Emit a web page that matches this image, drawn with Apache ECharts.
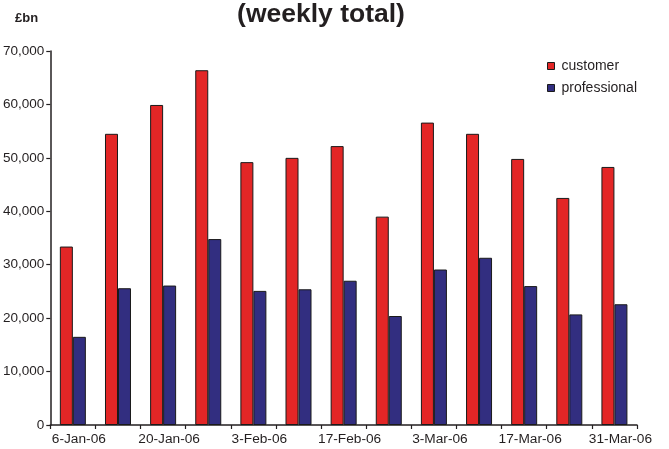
<!DOCTYPE html>
<html>
<head>
<meta charset="utf-8">
<script src="https://cdn.jsdelivr.net/npm/echarts@6/dist/echarts.min.js"></script>
<style>
  html, body { margin: 0; padding: 0; background: #fff; }
  #chart { width: 669px; height: 449px; }
</style>
</head>
<body>
<div id="chart"></div>
<script>
// Weekly totals, Jan–Mar 2006
const weeks = ['6-Jan-06', '13-Jan-06', '20-Jan-06', '27-Jan-06', '3-Feb-06', '10-Feb-06',
  '17-Feb-06', '24-Feb-06', '3-Mar-06', '10-Mar-06', '17-Mar-06', '24-Mar-06', '31-Mar-06'];
const customer = [33400, 54500, 59900, 66400, 49200, 50000, 52200, 39000, 56600, 54500, 49800, 42500, 48300];
const professional = [16500, 25600, 26100, 34800, 25100, 25400, 27000, 20400, 29100, 31300, 26000, 20700, 22600];
const yTicks = [0, 10000, 20000, 30000, 40000, 50000, 60000, 70000];

const textColor = '#231f20';
const font = 'Liberation Sans, Arial, sans-serif';

const chart = echarts.init(document.getElementById('chart'), null, { renderer: 'canvas' });
chart.setOption({
  animation: false,
  backgroundColor: '#ffffff',
  textStyle: { fontFamily: font, color: textColor },
  title: [
    {
      text: '(weekly total)',
      left: 321, top: 1, padding: 0, textAlign: 'center',
      textStyle: { fontFamily: font, fontSize: 26.5, fontWeight: 'bold', color: textColor }
    },
    {
      text: '£bn',
      left: 15, top: 12, padding: 0,
      textStyle: { fontFamily: font, fontSize: 13, fontWeight: 'bold', color: textColor }
    }
  ],
  legend: {
    orient: 'vertical',
    left: 547, top: 59, padding: 0,
    itemWidth: 7, itemHeight: 7, itemGap: 8,
    icon: 'rect',
    itemStyle: { borderColor: '#1a1a1a', borderWidth: 1 },
    textStyle: { fontFamily: font, fontSize: 14, color: textColor, padding: [0, 0, 0, 2] },
    data: ['customer', 'professional']
  },
  grid: { left: 48, right: 32, top: 51, bottom: 24, containLabel: false },
  xAxis: {
    type: 'category',
    data: weeks,
    boundaryGap: true,
    axisLine: { lineStyle: { color: '#231f20', width: 1.5 } },
    axisTick: { show: true, interval: 0, length: 4, lineStyle: { color: '#231f20', width: 1.2 } },
    axisLabel: {
      interval: 1, margin: 7,
      fontFamily: font, fontSize: 13.7, color: textColor,
      padding: [0, 0, 0, 12]
    },
    splitLine: { show: false }
  },
  yAxis: {
    type: 'value',
    min: yTicks[0], max: yTicks[yTicks.length - 1], interval: 10000,
    axisLine: { show: true, lineStyle: { color: '#231f20', width: 1.5 } },
    axisTick: { show: true, length: 4, lineStyle: { color: '#231f20', width: 1.2 } },
    axisLabel: {
      margin: 6, fontFamily: font, fontSize: 13.5, color: textColor,
      formatter: v => v.toLocaleString('en-GB')
    },
    splitLine: { show: false }
  },
  series: [
    {
      name: 'customer', type: 'bar', data: customer,
      barWidth: 13, barGap: '0%',
      itemStyle: { color: '#e32626', borderColor: '#1a1a1a', borderWidth: 1 }
    },
    {
      name: 'professional', type: 'bar', data: professional,
      barWidth: 13, barGap: '0%',
      itemStyle: { color: '#322e80', borderColor: '#1a1a1a', borderWidth: 1 }
    }
  ]
});
</script>
</body>
</html>
